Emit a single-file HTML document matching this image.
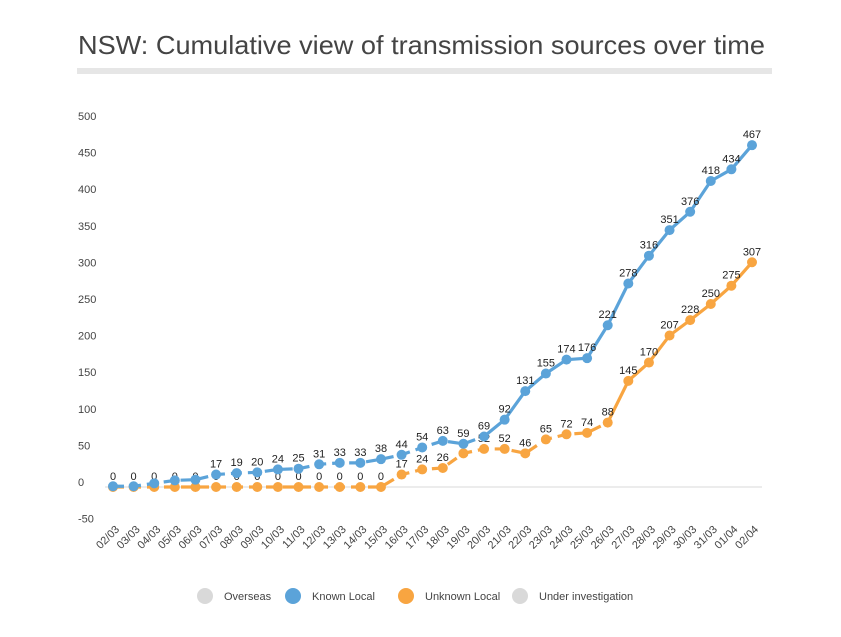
<!DOCTYPE html>
<html><head><meta charset="utf-8"><style>
body{margin:0;background:#fff;font-family:"Liberation Sans",sans-serif;}
svg{display:block}
</style></head><body>
<svg id="chart" width="841" height="637">
<text x="78" y="54" font-size="26" fill="#444" textLength="687" lengthAdjust="spacingAndGlyphs">NSW: Cumulative view of transmission sources over time</text>
<rect x="77" y="68" width="695" height="6" fill="#e6e6e6"/>
<g id="axes"></g>
<g id="series"></g>
<g id="legend"></g>
</svg>
<script>
const dates=["02/03","03/03","04/03","05/03","06/03","07/03","08/03","09/03","10/03","11/03","12/03","13/03","14/03","15/03","16/03","17/03","18/03","19/03","20/03","21/03","22/03","23/03","24/03","25/03","26/03","27/03","28/03","29/03","30/03","31/03","01/04","02/04"];
const knownLocal=[1,1,5,9,10,17,19,20,24,25,31,33,33,38,44,54,63,59,69,92,131,155,174,176,221,278,316,351,376,418,434,467];
const knownLabels=[null,null,null,null,null,17,19,20,24,25,31,33,33,38,44,54,63,59,69,92,131,155,174,176,221,278,316,351,376,418,434,467];
const unknownLocal=[0,0,0,0,0,0,0,0,0,0,0,0,0,0,17,24,26,46,52,52,46,65,72,74,88,145,170,207,228,250,275,307];
const unknownLabels=[0,0,0,0,0,0,0,0,0,0,0,0,0,0,17,24,26,null,52,52,46,65,72,74,88,145,170,207,228,250,275,307];
const yTicks=[-50,0,50,100,150,200,250,300,350,400,450,500];
const legendNames=["Overseas","Known Local","Unknown Local","Under investigation"];
const legendColors=["#d9d9d9","#5ba3d9","#f8a541","#d9d9d9"];

const NS="http://www.w3.org/2000/svg";
const x=i=>113+i*(752-113)/(dates.length-1);
const y=v=>487-v*0.732;
function mk(tag,attrs,parent,txt){const e=document.createElementNS(NS,tag);for(const k in attrs)e.setAttribute(k,attrs[k]);if(txt!==undefined)e.textContent=txt;parent.appendChild(e);return e;}
const axes=document.getElementById('axes'),series=document.getElementById('series'),legend=document.getElementById('legend');
let zl=mk('line',{x1:105,x2:762,y1:y(0),y2:y(0),stroke:'#d9d9d9','stroke-width':1},axes);


yTicks.forEach(t=>{const e=mk('text',{x:78,y:y(t)-1,'font-size':11,fill:'#444'},axes,t);

});
dates.forEach((d,i)=>{const e=mk('text',{x:x(i)+7,y:530,'font-size':11,fill:'#444','text-anchor':'end',transform:`rotate(-45 ${x(i)+7} 530)`},axes,d);

});
function drawSeries(vals,labels,color,dashUntil,name){
  let dp='',sp='';
  for(let i=0;i<=dashUntil;i++)dp+=(i?'L':'M')+x(i)+' '+y(vals[i]);
  for(let i=dashUntil;i<vals.length;i++)sp+=(i>dashUntil?'L':'M')+x(i)+' '+y(vals[i]);
  const l1=mk('path',{d:dp,fill:'none',stroke:color,'stroke-width':3.2,'stroke-dasharray':'11 6'},series);
  
  
  const l2=mk('path',{d:sp,fill:'none',stroke:color,'stroke-width':3.2},series);
  
  
  vals.forEach((v,i)=>{const c=mk('circle',{cx:x(i),cy:y(v),r:5,fill:color},series);
    
    
    if(labels[i]!==null){const t=mk('text',{x:x(i),y:y(v)-7,'font-size':11,fill:'#222','text-anchor':'middle'},series,labels[i]);
      
      }
  });
}
drawSeries(unknownLocal,unknownLabels,'#f8a541',24,'unknown-local');
drawSeries(knownLocal,knownLabels,'#5ba3d9',18,'known-local');
const lx=[205,293,406,520];
legendNames.forEach((n,i)=>{const g=mk('g',{},legend);
  
  
  mk('circle',{cx:lx[i],cy:596,r:8,fill:legendColors[i]},g);
  mk('text',{x:lx[i]+19,y:600,'font-size':11,fill:'#444'},g,n);});
</script>
</body></html>
